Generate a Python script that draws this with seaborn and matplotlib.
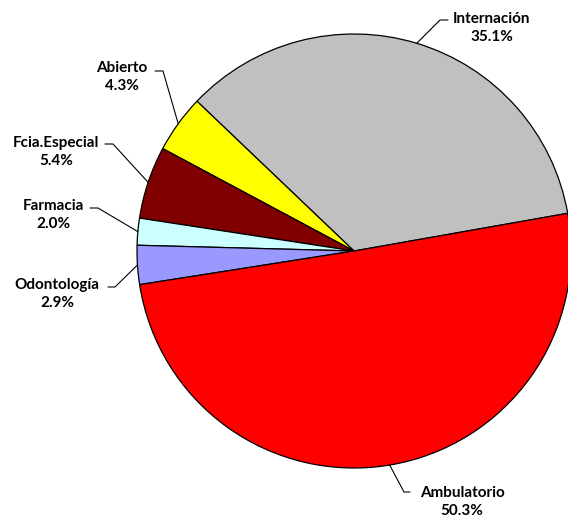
import numpy as np
import matplotlib
matplotlib.use('Agg')
import matplotlib.pyplot as plt
import seaborn as sns

# Data (counterclockwise from the right edge)
categories = ['Internación', 'Abierto', 'Fcia.Especial', 'Farmacia', 'Odontología', 'Ambulatorio']
shares = [35.1, 4.3, 5.4, 2.0, 2.9, 50.3]
colors = ['#C0C0C0', '#FFFF00', '#800000', '#CCFFFF', '#9999FF', '#FF0000']

sns.set_style('white')
plt.rcParams['font.family'] = ['Lato', 'DejaVu Sans']

W, H = 568, 525
fig = plt.figure(figsize=(W / 100, H / 100), dpi=100)
ax = fig.add_axes([0, 0, 1, 1])

cx, cy, r = 354, H - 251, 217
start = 10
wedges, _ = ax.pie(shares, colors=colors, startangle=start, counterclock=True,
                   center=(cx, cy), radius=r, frame=True,
                   wedgeprops=dict(edgecolor='black', linewidth=0.9))

# label block centers (pixel coords, y from top) and elbow of leader line
label_pos = {
    'Internación': (492, 28, (440, 20), (448, 20)),
    'Abierto': (122, 77, (163, 71), (155, 71)),
    'Fcia.Especial': (56, 152, (113, 144), (105, 144)),
    'Farmacia': (53, 215, (98, 208), (90, 208)),
    'Odontología': (57, 294, (115, 287), (108, 287)),
    'Ambulatorio': (462, 502, (404, 492), (410, 492)),
}

for w, name, pct in zip(wedges, categories, shares):
    mid = np.deg2rad((w.theta1 + w.theta2) / 2)
    ex, ey = cx + r * np.cos(mid), cy + r * np.sin(mid)
    tx, ty, elbow, end = label_pos[name]
    ax.plot([ex, elbow[0], end[0]], [ey, H - elbow[1], H - end[1]],
            color='black', linewidth=0.8, clip_on=False)
    ax.text(tx, H - ty, f'{name}\n{pct:.1f}%', ha='center', va='center',
            multialignment='center', fontsize=11, fontweight='bold',
            linespacing=1.35, color='black')

ax.set_xlim(0, W)
ax.set_ylim(0, H)
ax.set_aspect('equal')
ax.axis('off')
fig.savefig('out.png', dpi=100, facecolor='white')
